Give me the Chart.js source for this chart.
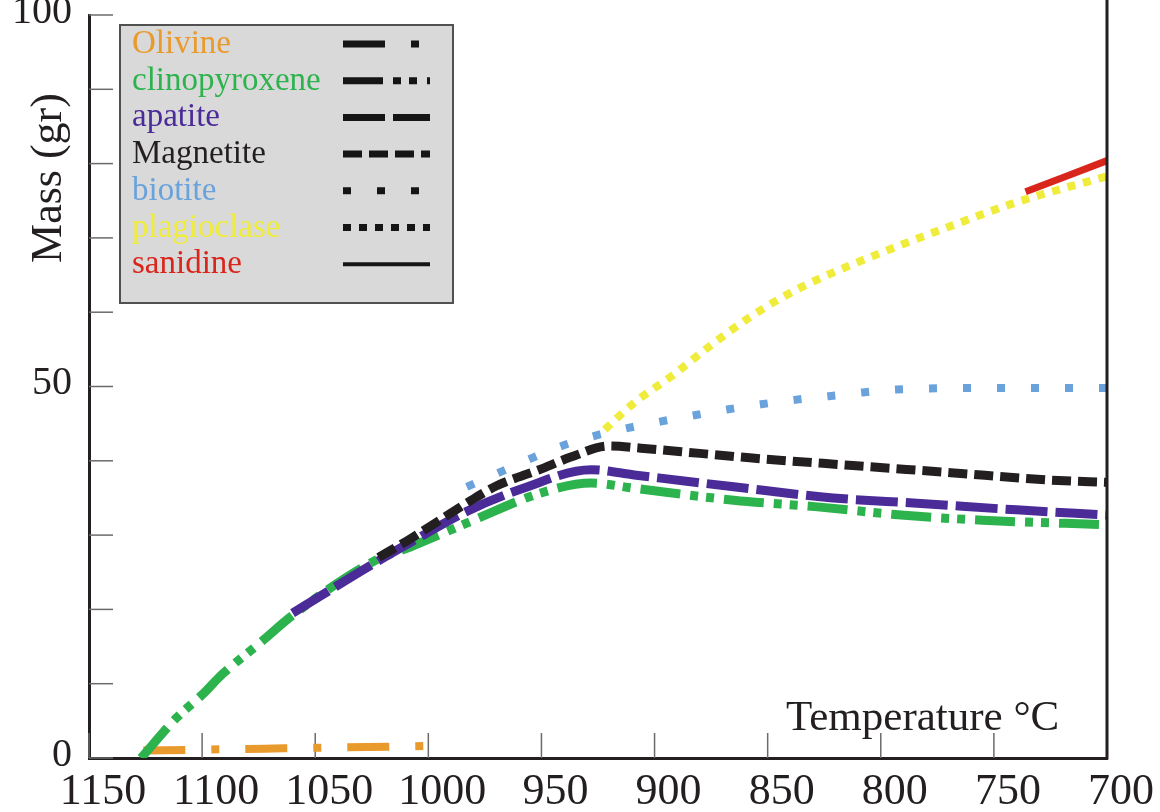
<!DOCTYPE html>
<html>
<head>
<meta charset="utf-8">
<script src="https://cdn.jsdelivr.net/npm/chart.js@4.4.0/dist/chart.umd.min.js"></script>
<style>
    html, body { margin: 0; padding: 0; background: #fff; }
</style>
</head>
<body>
<canvas id="chart" width="1160" height="812"></canvas>
<script>
// axis ticks
const tempTicks = [1150, 1100, 1050, 1000, 950, 900, 850, 800, 750, 700];
const massTicks = [0, 10, 20, 30, 40, 50, 60, 70, 80, 90, 100];
const massLabels = [0, 50, 100];

// values: temperature (°C) -> mass (gr)
const olivineT = [1126, 1064, 1002];
const olivineM = [1.0, 1.3, 1.6];

const cpxT = [1127, 1111, 1100, 1091, 1074, 1060, 1024, 1008, 980, 951, 928, 909, 865, 828, 791, 755, 700];
const cpxM = [0, 5.5, 8.5, 11.3, 15.6, 19.2, 26.5, 28.4, 32, 35.6, 37, 36.3, 34.7, 33.8, 32.7, 32, 31.4];

const apatiteT = [1060, 1024, 1008, 983, 958, 928, 909, 865, 821, 784, 740, 700];
const apatiteM = [19.5, 26.2, 29, 33.2, 36.3, 38.8, 38.1, 36.5, 35, 34.3, 33.4, 32.7];

const magnetiteT = [1022, 1009, 996, 982, 970, 951, 937, 920, 906, 880, 858, 814, 769, 725, 700];
const magnetiteM = [27, 29.3, 31.8, 34.5, 36.6, 38.8, 40.5, 42, 41.7, 41, 40.4, 39.4, 38.4, 37.4, 37.1];

const biotiteT = [983, 968, 954, 941, 926, 912, 897, 883, 868, 853, 838, 823, 808, 793, 750, 700];
const biotiteM = [36.5, 38.5, 40.4, 42, 43.4, 44.4, 45.3, 46.1, 46.9, 47.6, 48.2, 48.7, 49.2, 49.6, 49.8, 49.8];

const plagT = [922, 909, 892, 874, 858, 843, 828, 799, 769, 740, 700];
const plagM = [44.2, 47.8, 51.5, 55.8, 59.3, 62.1, 64.4, 68.1, 71.6, 74.8, 78.3];

const sanidineT = [736, 700];
const sanidineM = [76.2, 80.4];

const serif = '"Liberation Serif", "Times New Roman", serif';
const ink = '#231f20';

function pts(t, m){
    return t.map((v, i) => ({x: v, y: m[i]}));
}

function drawLegend(chart){
    const ctx = chart.ctx;
    ctx.save();
    ctx.fillStyle = '#d9d9d9';
    ctx.fillRect(120, 25, 333, 278);
    ctx.strokeStyle = '#505050';
    ctx.lineWidth = 2;
    ctx.strokeRect(120, 25, 333, 278);

    ctx.font = '33px ' + serif;
    ctx.textBaseline = 'alphabetic';
    ctx.textAlign = 'left';
    chart.data.datasets.forEach((ds, i) => {
        const base = 53 + i * 36.7;
        ctx.fillStyle = ds.borderColor;
        ctx.fillText(ds.label, 132, base);

        ctx.setLineDash(ds.borderDash || []);
        ctx.lineWidth = ds.borderDash ? 7 : 4;
        ctx.lineCap = 'butt';
        ctx.strokeStyle = '#151515';
        ctx.beginPath();
        ctx.moveTo(343, base - 9);
        ctx.lineTo(430, base - 9);
        ctx.stroke();
    });
    ctx.restore();
}

const decor = {
    id: 'decor',
    beforeDatasetsDraw(chart){
        const {ctx, chartArea: a, scales: {x, y}} = chart;
        ctx.save();
        ctx.strokeStyle = '#6b6b6b';
        ctx.lineWidth = 1.5;
        x.ticks.forEach(t => {
            const px = x.getPixelForValue(t.value);
            ctx.beginPath();
            ctx.moveTo(px, a.bottom);
            ctx.lineTo(px, a.bottom - 25);
            ctx.stroke();
        });
        y.ticks.forEach(t => {
            const py = y.getPixelForValue(t.value);
            ctx.beginPath();
            ctx.moveTo(a.left, py);
            ctx.lineTo(a.left + 24, py);
            ctx.stroke();
        });
        ctx.restore();
    },
    afterDraw(chart){
        const {ctx, chartArea: a} = chart;
        ctx.save();
        // right frame line
        ctx.strokeStyle = ink;
        ctx.lineWidth = 3;
        ctx.beginPath();
        ctx.moveTo(a.right, 0);
        ctx.lineTo(a.right, a.bottom + 1.5);
        ctx.stroke();

        ctx.fillStyle = ink;
        ctx.font = '43px ' + serif;
        ctx.textBaseline = 'alphabetic';
        ctx.textAlign = 'left';
        ctx.fillText('Temperature °C', 786, 730);

        ctx.translate(49, 178);
        ctx.rotate(-Math.PI / 2);
        ctx.font = '44px ' + serif;
        ctx.textAlign = 'center';
        ctx.textBaseline = 'middle';
        ctx.fillText('Mass (gr)', 0, 0);
        ctx.restore();

        drawLegend(chart);
    }
};

new Chart('chart', {
    type: 'line',
    data: {
        datasets: [
            {
                label: 'Olivine',
                data: pts(olivineT, olivineM),
                borderColor: '#e99a2c',
                borderWidth: 8,
                borderDash: [42, 26, 8, 26],
                order: 6
            },
            {
                label: 'clinopyroxene',
                data: pts(cpxT, cpxM),
                borderColor: '#2db34e',
                borderWidth: 9,
                borderDash: [40, 10, 8, 8, 8, 10],
                order: 5
            },
            {
                label: 'apatite',
                data: pts(apatiteT, apatiteM),
                borderColor: '#4b2b98',
                borderWidth: 9,
                borderDash: [42, 8],
                order: 4
            },
            {
                label: 'Magnetite',
                data: pts(magnetiteT, magnetiteM),
                borderColor: ink,
                borderWidth: 9,
                borderDash: [19, 7],
                order: 3
            },
            {
                label: 'biotite',
                data: pts(biotiteT, biotiteM),
                borderColor: '#6aa2dc',
                borderWidth: 8,
                borderDash: [8, 26],
                order: 7
            },
            {
                label: 'plagioclase',
                data: pts(plagT, plagM),
                borderColor: '#efec3b',
                borderWidth: 8,
                borderDash: [8, 8],
                order: 2
            },
            {
                label: 'sanidine',
                data: pts(sanidineT, sanidineM),
                borderColor: '#d9261c',
                borderWidth: 7,
                order: 1
            }
        ]
    },
    options: {
        responsive: false,
        animation: false,
        devicePixelRatio: 1,
        layout: {padding: {top: 15, right: 53, left: 0, bottom: 0}},
        plugins: {
            legend: {display: false},
            tooltip: {enabled: false}
        },
        elements: {
            point: {radius: 0},
            line: {
                borderCapStyle: 'butt',
                cubicInterpolationMode: 'monotone',
                fill: false
            }
        },
        scales: {
            x: {
                type: 'linear',
                reverse: true,
                min: 700,
                max: 1150,
                afterBuildTicks: s => { s.ticks = tempTicks.map(v => ({value: v})); },
                afterFit: s => { s.height = 54; s.paddingLeft = 0; s.paddingRight = 0; },
                grid: {drawOnChartArea: false, drawTicks: false},
                border: {color: ink, width: 3},
                ticks: {
                    font: {family: serif, size: 44},
                    color: ink,
                    padding: 8,
                    labelOffset: 14,
                    maxRotation: 0,
                    autoSkip: false,
                    callback: v => String(v)
                }
            },
            y: {
                min: 0,
                max: 100,
                afterBuildTicks: s => { s.ticks = massTicks.map(v => ({value: v})); },
                afterFit: s => { s.width = 89; s.paddingTop = 0; s.paddingBottom = 0; },
                grid: {drawOnChartArea: false, drawTicks: false},
                border: {color: ink, width: 3},
                ticks: {
                    font: {family: serif, size: 40},
                    color: ink,
                    padding: 17,
                    labelOffset: -3,
                    callback: v => massLabels.includes(v) ? String(v) : ''
                }
            }
        }
    },
    plugins: [decor]
});
</script>
</body>
</html>
